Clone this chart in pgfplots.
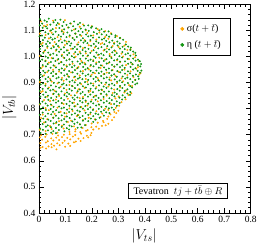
\documentclass[border=0pt]{standalone}
\usepackage{fontspec}
\setmainfont{Liberation Serif}
\usepackage{pgfplots}
\pgfplotsset{compat=1.18}
\definecolor{gorange}{RGB}{255,165,0}
\definecolor{ggreen}{RGB}{20,150,20}
\begin{document}
\begin{tikzpicture}
\useasboundingbox (-39pt,-32pt) rectangle (218pt,213pt);
\begin{axis}[
  at={(0pt,0pt)}, anchor=south west, scale only axis,
  width=211.7pt, height=208.7pt,
  xmin=0, xmax=0.8, ymin=0.4, ymax=1.2,
  xtick={0,0.1,0.2,0.3,0.4,0.5,0.6,0.7,0.8},
  xticklabels={0,0.1,0.2,0.3,0.4,0.5,0.6,0.7,0.8},
  ytick={0.4,0.5,0.6,0.7,0.8,0.9,1.0,1.1,1.2},
  yticklabels={0.4,0.5,0.6,0.7,0.8,0.9,1.0,1.1,1.2},
  minor x tick num=4, minor y tick num=4,
  tick align=inside, tick pos=both,
  major tick length=5pt, minor tick length=2.5pt,
  tick style={black, line width=0.6pt},
  axis line style={line width=0.8pt},
  ticklabel style={font=\fontsize{9.5}{11}\selectfont},
  xlabel={$\big|V_{ts}\big|$}, ylabel={$\big|V_{tb}\big|$},
  label style={font=\fontsize{14}{16}\selectfont},
  xlabel style={at={(axis description cs:0.497,-0.11)}, anchor=center},
  ylabel style={at={(axis description cs:-0.14,0.505)}, anchor=center},
  legend style={at={(0.907,0.934)}, anchor=north east, draw=black, line width=0.6pt, font=\fontsize{10}{12}\selectfont, row sep=3pt, inner xsep=7pt, inner ysep=4pt, nodes={inner xsep=3pt}},
  legend cell align=left,
]
\addlegendimage{only marks, mark=*, mark size=1.6pt, color=gorange}
\addlegendentry{σ($t+\bar{t}$)}
\addlegendimage{only marks, mark=*, mark size=1.6pt, color=ggreen}
\addlegendentry{η ($t+\bar{t}$)}
% sigma(t+tbar) points (orange)
\addplot[only marks, mark=*, mark size=0.75pt, color=gorange, forget plot] coordinates {
(0.008,1.134)(0.053,1.137)(0.098,1.139)
(0.031,1.121)(0.076,1.124)(0.121,1.126)(0.166,1.123)
(0.019,1.117)(0.064,1.109)(0.109,1.111)(0.154,1.114)(0.199,1.116)
(0.042,1.098)(0.087,1.101)(0.132,1.103)(0.177,1.100)(0.222,1.105)(0.250,1.097)
(0.003,1.088)(0.048,1.091)(0.093,1.093)(0.138,1.087)(0.183,1.090)(0.228,1.092)(0.272,1.089)
(0.025,1.082)(0.070,1.074)(0.115,1.076)(0.160,1.079)(0.205,1.081)(0.250,1.075)(0.295,1.078)
(0.037,1.069)(0.082,1.066)(0.127,1.071)(0.172,1.063)(0.217,1.065)(0.262,1.068)(0.307,1.070)
(0.014,1.052)(0.059,1.055)(0.104,1.057)(0.149,1.054)(0.194,1.059)(0.239,1.051)(0.284,1.053)(0.329,1.056)
(0.008,1.047)(0.053,1.041)(0.098,1.044)(0.143,1.046)(0.188,1.043)(0.233,1.048)(0.278,1.040)(0.323,1.042)
(0.031,1.033)(0.076,1.035)(0.121,1.029)(0.166,1.032)(0.211,1.034)(0.256,1.031)(0.301,1.036)(0.346,1.028)
(0.019,1.019)(0.064,1.022)(0.109,1.024)(0.154,1.018)(0.199,1.021)(0.244,1.023)(0.289,1.020)(0.334,1.025)
(0.042,1.005)(0.087,1.007)(0.132,1.010)(0.177,1.012)(0.222,1.006)(0.267,1.009)(0.312,1.011)(0.357,1.008)
(0.003,1.002)(0.048,0.994)(0.093,0.996)(0.138,0.999)(0.183,1.001)(0.228,0.995)(0.273,0.998)(0.318,1.000)(0.363,0.997)
(0.025,0.984)(0.070,0.987)(0.115,0.989)(0.160,0.983)(0.205,0.986)(0.250,0.988)(0.295,0.985)(0.340,0.990)(0.378,0.982)
(0.037,0.976)(0.082,0.978)(0.127,0.972)(0.172,0.975)(0.217,0.977)(0.262,0.974)(0.307,0.979)(0.352,0.971)
(0.014,0.961)(0.059,0.964)(0.104,0.966)(0.149,0.960)(0.194,0.963)(0.239,0.965)(0.284,0.962)(0.329,0.967)(0.374,0.959)
(0.008,0.955)(0.053,0.949)(0.098,0.952)(0.143,0.954)(0.188,0.951)(0.233,0.956)(0.278,0.948)(0.323,0.950)(0.368,0.953)
(0.031,0.940)(0.076,0.942)(0.121,0.939)(0.166,0.944)(0.211,0.936)(0.256,0.938)(0.301,0.941)(0.346,0.943)(0.384,0.937)
(0.019,0.928)(0.064,0.933)(0.109,0.925)(0.154,0.927)(0.199,0.930)(0.244,0.932)(0.289,0.926)(0.334,0.929)(0.379,0.931)
(0.042,0.915)(0.087,0.918)(0.132,0.920)(0.177,0.914)(0.222,0.917)(0.267,0.919)(0.312,0.916)(0.357,0.921)
(0.003,0.902)(0.048,0.904)(0.093,0.907)(0.138,0.909)(0.183,0.903)(0.228,0.906)(0.273,0.908)(0.318,0.905)(0.363,0.910)
(0.025,0.895)(0.070,0.897)(0.115,0.891)(0.160,0.894)(0.205,0.896)(0.250,0.893)(0.295,0.898)(0.340,0.890)
(0.037,0.881)(0.082,0.884)(0.127,0.886)(0.172,0.880)(0.217,0.883)(0.262,0.885)(0.307,0.882)(0.352,0.887)
(0.014,0.867)(0.059,0.869)(0.104,0.872)(0.149,0.874)(0.194,0.868)(0.239,0.871)(0.284,0.873)(0.329,0.870)
(0.008,0.864)(0.053,0.856)(0.098,0.858)(0.143,0.861)(0.188,0.863)(0.233,0.857)(0.278,0.860)(0.323,0.862)(0.349,0.859)
(0.031,0.846)(0.076,0.849)(0.121,0.851)(0.166,0.845)(0.211,0.848)(0.256,0.850)(0.301,0.847)(0.338,0.852)
(0.019,0.833)(0.064,0.835)(0.109,0.838)(0.154,0.840)(0.199,0.834)(0.244,0.837)(0.289,0.839)(0.327,0.836)
(0.042,0.829)(0.087,0.821)(0.132,0.823)(0.177,0.826)(0.222,0.828)(0.267,0.822)(0.312,0.825)
(0.003,0.816)(0.048,0.813)(0.093,0.818)(0.138,0.810)(0.183,0.812)(0.228,0.815)(0.273,0.817)(0.303,0.811)
(0.025,0.802)(0.070,0.804)(0.115,0.801)(0.160,0.806)(0.205,0.798)(0.250,0.800)(0.290,0.803)
(0.037,0.794)(0.082,0.788)(0.127,0.791)(0.172,0.793)(0.217,0.790)(0.262,0.795)(0.285,0.787)(0.300,0.792)
(0.014,0.777)(0.059,0.780)(0.104,0.782)(0.149,0.776)(0.194,0.779)(0.239,0.781)(0.270,0.778)(0.292,0.783)
(0.008,0.764)(0.053,0.766)(0.098,0.769)(0.143,0.771)(0.188,0.765)(0.233,0.768)(0.262,0.770)(0.284,0.767)
(0.031,0.760)(0.076,0.752)(0.121,0.754)(0.166,0.757)(0.211,0.759)(0.242,0.753)(0.258,0.761)(0.276,0.756)
(0.019,0.747)(0.064,0.744)(0.109,0.749)(0.154,0.741)(0.199,0.743)(0.222,0.746)(0.244,0.748)(0.262,0.742)
(0.042,0.733)(0.087,0.735)(0.132,0.732)(0.177,0.737)(0.198,0.729)(0.216,0.731)(0.238,0.734)(0.252,0.736)
(0.003,0.719)(0.048,0.722)(0.093,0.724)(0.138,0.721)(0.165,0.726)(0.184,0.718)(0.205,0.720)(0.226,0.723)
(0.025,0.714)(0.070,0.708)(0.115,0.711)(0.137,0.713)(0.156,0.710)(0.178,0.715)(0.198,0.707)
(0.008,0.698)(0.029,0.701)(0.051,0.703)(0.072,0.697)(0.094,0.700)(0.116,0.702)(0.137,0.699)(0.159,0.704)(0.181,0.696)(0.195,0.698)
(0.004,0.690)(0.024,0.692)(0.046,0.686)(0.065,0.689)(0.087,0.691)(0.107,0.688)(0.128,0.693)(0.149,0.685)(0.168,0.687)(0.186,0.690)
(0.012,0.681)(0.033,0.675)(0.054,0.678)(0.076,0.680)(0.097,0.677)(0.118,0.682)(0.139,0.674)(0.157,0.676)
(0.005,0.668)(0.026,0.670)(0.047,0.664)(0.069,0.667)(0.089,0.669)(0.111,0.666)(0.132,0.671)
(0.014,0.653)(0.036,0.655)(0.057,0.658)(0.078,0.660)(0.099,0.654)(0.118,0.657)
(0.006,0.650)(0.027,0.647)(0.048,0.652)(0.066,0.644)
};
% eta(t+tbar) points (green)
\addplot[only marks, mark=*, mark size=0.75pt, color=ggreen, forget plot] coordinates {
(0.004,1.143)(0.021,1.138)(0.037,1.145)(0.062,1.140)(0.081,1.141)
(0.012,1.126)(0.030,1.133)(0.055,1.131)(0.071,1.128)(0.093,1.132)(0.118,1.127)(0.133,1.134)(0.155,1.129)
(0.003,1.119)(0.026,1.115)(0.043,1.122)(0.066,1.120)(0.088,1.117)(0.104,1.121)(0.129,1.116)(0.147,1.123)(0.170,1.118)(0.186,1.119)(0.201,1.115)
(0.014,1.110)(0.031,1.108)(0.052,1.105)(0.077,1.109)(0.095,1.104)(0.112,1.111)(0.138,1.106)(0.158,1.107)(0.176,1.103)(0.197,1.110)(0.216,1.108)(0.236,1.105)
(0.006,1.098)(0.024,1.093)(0.045,1.100)(0.063,1.095)(0.086,1.096)(0.107,1.092)(0.124,1.099)(0.149,1.097)(0.165,1.094)(0.188,1.098)(0.207,1.093)(0.228,1.100)(0.246,1.095)(0.263,1.096)
(0.011,1.080)(0.035,1.087)(0.053,1.085)(0.074,1.082)(0.092,1.086)(0.116,1.081)(0.137,1.088)(0.155,1.083)(0.178,1.084)(0.196,1.080)(0.219,1.087)(0.237,1.085)(0.255,1.082)(0.274,1.086)(0.289,1.081)
(0.002,1.077)(0.022,1.072)(0.044,1.073)(0.060,1.069)(0.083,1.076)(0.104,1.074)(0.127,1.071)(0.143,1.075)(0.166,1.070)(0.186,1.077)(0.204,1.072)(0.227,1.073)(0.246,1.069)(0.265,1.076)(0.288,1.074)(0.306,1.071)
(0.015,1.063)(0.033,1.058)(0.051,1.065)(0.075,1.060)(0.097,1.061)(0.113,1.057)(0.134,1.064)(0.158,1.062)(0.175,1.059)(0.194,1.063)(0.216,1.058)(0.238,1.065)(0.254,1.060)(0.277,1.061)(0.296,1.057)(0.318,1.064)
(0.005,1.051)(0.027,1.048)(0.041,1.052)(0.065,1.047)(0.087,1.054)(0.106,1.049)(0.122,1.050)(0.147,1.046)(0.168,1.053)(0.183,1.051)(0.207,1.048)(0.225,1.052)(0.247,1.047)(0.266,1.054)(0.284,1.049)(0.305,1.050)(0.328,1.046)
(0.013,1.041)(0.032,1.039)(0.056,1.036)(0.072,1.040)(0.094,1.035)(0.118,1.042)(0.135,1.037)(0.156,1.038)(0.174,1.034)(0.197,1.041)(0.215,1.039)(0.236,1.036)(0.258,1.040)(0.274,1.035)(0.297,1.042)(0.316,1.037)(0.337,1.038)(0.347,1.034)
(0.004,1.029)(0.023,1.024)(0.046,1.031)(0.066,1.026)(0.083,1.027)(0.105,1.023)(0.128,1.030)(0.144,1.028)(0.165,1.025)(0.187,1.029)(0.206,1.024)(0.224,1.031)(0.248,1.026)(0.265,1.027)(0.285,1.023)(0.306,1.030)(0.324,1.028)(0.345,1.025)
(0.016,1.014)(0.035,1.015)(0.054,1.011)(0.076,1.018)(0.095,1.016)(0.114,1.013)(0.137,1.017)(0.157,1.012)(0.176,1.019)(0.194,1.014)(0.217,1.015)(0.235,1.011)(0.256,1.018)(0.277,1.016)(0.294,1.013)(0.315,1.017)(0.336,1.012)(0.356,1.019)(0.364,1.014)
(0.007,1.004)(0.025,1.000)(0.043,1.007)(0.067,1.005)(0.086,1.002)(0.107,1.006)(0.124,1.001)(0.147,1.008)(0.166,1.003)(0.185,1.004)(0.208,1.000)(0.226,1.007)(0.244,1.005)(0.267,1.002)(0.286,1.006)(0.304,1.001)(0.327,1.008)(0.345,1.003)(0.366,1.004)
(0.012,0.988)(0.034,0.995)(0.053,0.993)(0.073,0.990)(0.096,0.994)(0.115,0.989)(0.133,0.996)(0.156,0.991)(0.177,0.992)(0.195,0.988)(0.214,0.995)(0.237,0.993)(0.255,0.990)(0.274,0.994)(0.296,0.989)(0.314,0.996)(0.335,0.991)(0.356,0.992)(0.374,0.988)
(0.003,0.984)(0.024,0.982)(0.045,0.979)(0.062,0.983)(0.085,0.978)(0.104,0.985)(0.126,0.980)(0.146,0.981)(0.164,0.977)(0.186,0.984)(0.205,0.982)(0.227,0.979)(0.245,0.983)(0.266,0.978)(0.284,0.985)(0.306,0.980)(0.325,0.981)(0.347,0.977)(0.365,0.984)(0.381,0.982)
(0.014,0.967)(0.033,0.971)(0.055,0.966)(0.075,0.973)(0.094,0.968)(0.116,0.969)(0.134,0.965)(0.155,0.972)(0.175,0.970)(0.196,0.967)(0.216,0.971)(0.234,0.966)(0.256,0.973)(0.276,0.968)(0.295,0.969)(0.315,0.965)(0.337,0.972)(0.354,0.970)(0.374,0.967)(0.386,0.971)
(0.005,0.955)(0.026,0.962)(0.044,0.957)(0.064,0.958)(0.086,0.954)(0.105,0.961)(0.125,0.959)(0.146,0.956)(0.167,0.960)(0.184,0.955)(0.206,0.962)(0.226,0.957)(0.246,0.958)(0.264,0.954)(0.285,0.961)(0.306,0.959)(0.324,0.956)(0.346,0.960)(0.364,0.955)(0.383,0.962)
(0.016,0.945)(0.036,0.946)(0.054,0.942)(0.076,0.949)(0.095,0.947)(0.114,0.944)(0.136,0.948)(0.157,0.943)(0.175,0.950)(0.195,0.945)(0.217,0.946)(0.236,0.942)(0.254,0.949)(0.275,0.947)(0.296,0.944)(0.314,0.948)(0.336,0.943)(0.356,0.950)(0.373,0.945)(0.387,0.946)
(0.006,0.931)(0.023,0.938)(0.046,0.936)(0.065,0.933)(0.084,0.937)(0.106,0.932)(0.127,0.939)(0.145,0.934)(0.165,0.935)(0.186,0.931)(0.204,0.938)(0.226,0.936)(0.247,0.933)(0.265,0.937)(0.284,0.932)(0.307,0.939)(0.325,0.934)(0.344,0.935)(0.366,0.931)(0.382,0.938)
(0.013,0.924)(0.035,0.921)(0.053,0.925)(0.074,0.920)(0.096,0.927)(0.113,0.922)(0.136,0.923)(0.154,0.919)(0.176,0.926)(0.195,0.924)(0.215,0.921)(0.235,0.925)(0.256,0.920)(0.274,0.927)(0.294,0.922)(0.316,0.923)(0.334,0.919)(0.355,0.926)(0.375,0.924)
(0.004,0.910)(0.025,0.914)(0.044,0.909)(0.066,0.916)(0.085,0.911)(0.104,0.912)(0.126,0.908)(0.147,0.915)(0.164,0.913)(0.186,0.910)(0.206,0.914)(0.224,0.909)(0.245,0.916)(0.266,0.911)(0.286,0.912)(0.305,0.908)(0.326,0.915)(0.345,0.913)(0.364,0.910)(0.377,0.914)
(0.015,0.897)(0.033,0.904)(0.056,0.899)(0.075,0.900)(0.093,0.896)(0.116,0.903)(0.135,0.901)(0.155,0.898)(0.174,0.902)(0.196,0.897)(0.214,0.904)(0.236,0.899)(0.254,0.900)(0.276,0.896)(0.295,0.903)(0.314,0.901)(0.336,0.898)(0.354,0.902)(0.371,0.897)
(0.006,0.893)(0.024,0.888)(0.045,0.889)(0.064,0.885)(0.087,0.892)(0.104,0.890)(0.125,0.887)(0.146,0.891)(0.166,0.886)(0.185,0.893)(0.205,0.888)(0.227,0.889)(0.244,0.885)(0.265,0.892)(0.285,0.890)(0.306,0.887)(0.324,0.891)(0.345,0.886)(0.364,0.893)
(0.014,0.876)(0.034,0.877)(0.053,0.873)(0.076,0.880)(0.094,0.878)(0.115,0.875)(0.136,0.879)(0.154,0.874)(0.177,0.881)(0.195,0.876)(0.214,0.877)(0.236,0.873)(0.255,0.880)(0.274,0.878)(0.296,0.875)(0.315,0.879)(0.334,0.874)(0.352,0.881)
(0.003,0.868)(0.026,0.863)(0.043,0.870)(0.065,0.865)(0.085,0.866)(0.106,0.862)(0.124,0.869)(0.146,0.867)(0.165,0.864)(0.187,0.868)(0.204,0.863)(0.226,0.870)(0.246,0.865)(0.264,0.866)(0.286,0.862)(0.305,0.869)(0.324,0.867)(0.345,0.864)
(0.016,0.854)(0.034,0.850)(0.055,0.857)(0.074,0.855)(0.096,0.852)(0.114,0.856)(0.135,0.851)(0.157,0.858)(0.174,0.853)(0.194,0.854)(0.216,0.850)(0.235,0.857)(0.255,0.855)(0.276,0.852)(0.294,0.856)(0.316,0.851)(0.334,0.858)(0.344,0.853)
(0.005,0.846)(0.024,0.844)(0.046,0.841)(0.066,0.845)(0.084,0.840)(0.105,0.847)(0.127,0.842)(0.145,0.843)(0.166,0.839)(0.185,0.846)(0.206,0.844)(0.225,0.841)(0.244,0.845)(0.266,0.840)(0.285,0.847)(0.304,0.842)(0.325,0.843)
(0.013,0.827)(0.035,0.834)(0.054,0.832)(0.073,0.829)(0.095,0.833)(0.116,0.828)(0.134,0.835)(0.155,0.830)(0.176,0.831)(0.196,0.827)(0.214,0.834)(0.234,0.832)(0.256,0.829)(0.275,0.833)(0.294,0.828)(0.314,0.835)
(0.004,0.819)(0.025,0.820)(0.045,0.816)(0.064,0.823)(0.086,0.821)(0.104,0.818)(0.126,0.822)(0.146,0.817)(0.164,0.824)(0.186,0.819)(0.205,0.820)(0.226,0.816)(0.245,0.823)(0.266,0.821)(0.284,0.818)(0.305,0.822)
(0.015,0.805)(0.033,0.812)(0.055,0.807)(0.076,0.808)(0.094,0.804)(0.115,0.811)(0.134,0.809)(0.156,0.806)(0.175,0.810)(0.194,0.805)(0.216,0.812)(0.236,0.807)(0.254,0.808)(0.275,0.804)(0.294,0.811)
(0.006,0.798)(0.026,0.795)(0.044,0.799)(0.065,0.794)(0.085,0.801)(0.106,0.796)(0.125,0.797)(0.145,0.793)(0.166,0.800)(0.185,0.798)(0.204,0.795)(0.226,0.799)(0.245,0.794)(0.264,0.801)(0.283,0.796)
(0.014,0.785)(0.034,0.781)(0.053,0.788)(0.075,0.786)(0.096,0.783)(0.114,0.787)(0.136,0.782)(0.154,0.789)(0.176,0.784)(0.195,0.785)(0.214,0.781)(0.235,0.788)(0.254,0.786)(0.266,0.783)
(0.003,0.776)(0.024,0.771)(0.046,0.778)(0.064,0.773)(0.086,0.774)(0.105,0.770)(0.124,0.777)(0.146,0.775)(0.165,0.772)(0.186,0.776)(0.205,0.771)(0.224,0.778)(0.245,0.773)
(0.016,0.762)(0.035,0.758)(0.054,0.765)(0.074,0.763)(0.095,0.760)(0.116,0.764)(0.135,0.759)(0.154,0.766)(0.175,0.761)(0.196,0.762)(0.214,0.758)(0.229,0.765)
(0.005,0.752)(0.025,0.749)(0.044,0.753)(0.066,0.748)(0.085,0.755)(0.104,0.750)(0.126,0.751)(0.145,0.747)(0.166,0.754)(0.186,0.752)(0.205,0.749)
(0.014,0.741)(0.033,0.736)(0.055,0.743)(0.075,0.738)(0.094,0.739)(0.115,0.735)(0.134,0.742)(0.155,0.740)(0.174,0.737)
(0.004,0.724)(0.026,0.731)(0.045,0.729)(0.064,0.726)(0.086,0.730)(0.105,0.725)(0.124,0.732)(0.146,0.727)(0.160,0.728)
(0.015,0.719)(0.034,0.717)(0.054,0.714)(0.075,0.718)(0.096,0.713)(0.114,0.720)
(0.006,0.707)(0.025,0.704)(0.046,0.708)(0.064,0.706)
};
\node[draw=black, line width=0.6pt, fill=white, font=\fontsize{10}{12}\selectfont, inner xsep=5pt, inner ysep=2.5pt] at (axis cs:0.525,0.484) {Tevatron\ \ $tj+t\bar{b}\oplus R$};
\end{axis}
\end{tikzpicture}
\end{document}
